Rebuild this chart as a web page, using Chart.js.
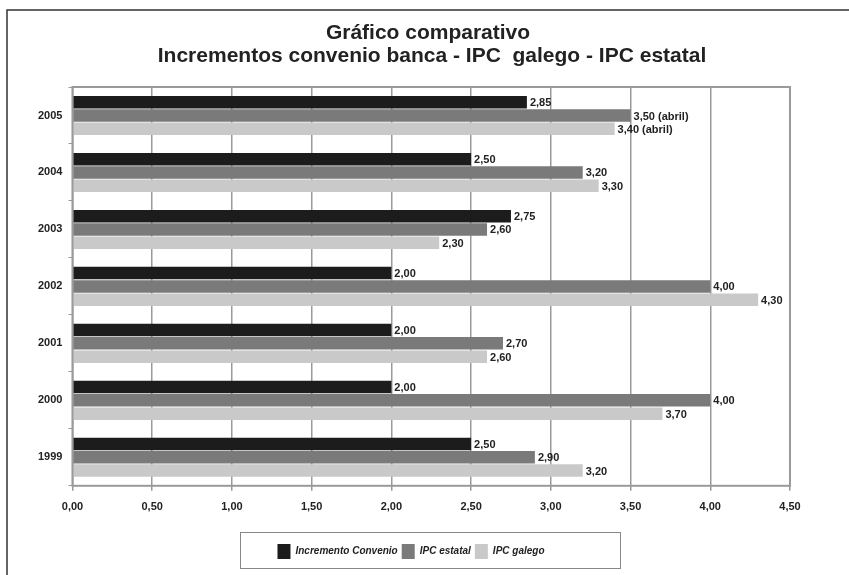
<!DOCTYPE html>
<html>
<head>
<meta charset="utf-8">
<script src="https://cdn.jsdelivr.net/npm/chart.js@4/dist/chart.umd.min.js"></script>
<style>
  html, body { margin: 0; padding: 0; background: #fff; }
  #wrap { width: 849px; height: 575px; position: relative; }
</style>
</head>
<body>
<div id="wrap"><canvas id="chart"></canvas></div>
<script>
// years, top to bottom as in the picture
const years = ['2005', '2004', '2003', '2002', '2001', '2000', '1999'];
const incrementoConvenio = [2.85, 2.50, 2.75, 2.00, 2.00, 2.00, 2.50];
const ipcEstatal = [3.50, 3.20, 2.60, 4.00, 2.70, 4.00, 2.90];
const ipcGalego = [3.40, 3.30, 2.30, 4.30, 2.60, 3.70, 3.20];
// extra note shown after some labels
const labelNotes = { '1-0': ' (abril)', '2-0': ' (abril)' };
const xTicks = [0, 0.5, 1, 1.5, 2, 2.5, 3, 3.5, 4, 4.5];
const titleLines = ['Gráfico comparativo', 'Incrementos convenio banca - IPC  galego - IPC estatal'];

const fmt = v => v.toFixed(2).replace('.', ',');
const FONT = "'Liberation Sans', Arial, sans-serif";

// frame, title, plot border and legend box
const framePlugin = {
  id: 'frame',
  beforeDraw(chart) {
    const ctx = chart.ctx;
    ctx.save();
    ctx.strokeStyle = '#333';
    ctx.lineWidth = 1.5;
    ctx.strokeRect(7, 10, 860, 600);
    ctx.fillStyle = '#222';
    ctx.font = 'bold 21px ' + FONT;
    ctx.textAlign = 'center';
    ctx.textBaseline = 'alphabetic';
    ctx.fillText(titleLines[0], 428, 39);
    ctx.fillText(titleLines[1], 432, 62);
    ctx.restore();
  },
  afterDraw(chart) {
    const { ctx, chartArea: a } = chart;
    ctx.save();
    ctx.strokeStyle = '#9a9a9a';
    ctx.lineWidth = 2;
    ctx.strokeRect(a.left, a.top, a.right - a.left, a.bottom - a.top);
    // legend box
    ctx.strokeStyle = '#888';
    ctx.lineWidth = 1;
    ctx.strokeRect(240.5, 532.5, 380, 36);
    ctx.restore();
  }
};

// value labels at the end of each bar
const valueLabels = {
  id: 'valueLabels',
  afterDatasetsDraw(chart) {
    const ctx = chart.ctx;
    ctx.save();
    ctx.font = 'bold 11px ' + FONT;
    ctx.fillStyle = '#222';
    ctx.textBaseline = 'middle';
    ctx.textAlign = 'left';
    chart.data.datasets.forEach((ds, di) => {
      chart.getDatasetMeta(di).data.forEach((bar, i) => {
        const note = labelNotes[di + '-' + i] || '';
        ctx.fillText(fmt(ds.data[i]) + note, bar.x + 3, bar.y + 1);
      });
    });
    ctx.restore();
  }
};

new Chart(document.getElementById('chart'), {
  type: 'bar',
  data: {
    labels: years,
    datasets: [
      { label: 'Incremento Convenio', data: incrementoConvenio, backgroundColor: '#1c1c1c' },
      { label: 'IPC estatal', data: ipcEstatal, backgroundColor: '#7a7a7a' },
      { label: 'IPC galego', data: ipcGalego, backgroundColor: '#c9c9c9' }
    ]
  },
  options: {
    indexAxis: 'y',
    responsive: true,
    maintainAspectRatio: false,
    animation: false,
    datasets: { bar: { barPercentage: 0.94, categoryPercentage: 0.7 } },
    layout: { padding: { left: 32, right: 59, top: 87, bottom: 6 } },
    scales: {
      x: {
        min: 0,
        max: 4.5,
        afterBuildTicks(axis) { axis.ticks = xTicks.map(v => ({ value: v })); },
        afterFit(axis) { axis.height += 16; },
        ticks: {
          callback: v => fmt(v),
          color: '#222',
          font: { family: FONT, size: 11, weight: 'bold' },
          padding: 10
        },
        grid: { color: '#9a9a9a', lineWidth: 1.5, tickLength: 5, tickColor: '#9a9a9a' },
        border: { display: false }
      },
      y: {
        ticks: {
          color: '#222',
          font: { family: FONT, size: 11, weight: 'bold' },
          padding: 6
        },
        grid: { drawOnChartArea: false, offset: true, tickLength: 4, color: '#9a9a9a' },
        border: { display: false }
      }
    },
    plugins: {
      title: { display: false },
      legend: {
        position: 'bottom',
        labels: {
          color: '#222',
          font: { family: FONT, size: 10, weight: 'bold', style: 'italic' },
          boxWidth: 13,
          boxHeight: 15,
          padding: 4
        }
      },
      tooltip: { enabled: false }
    }
  },
  plugins: [framePlugin, valueLabels]
});
</script>
</body>
</html>
